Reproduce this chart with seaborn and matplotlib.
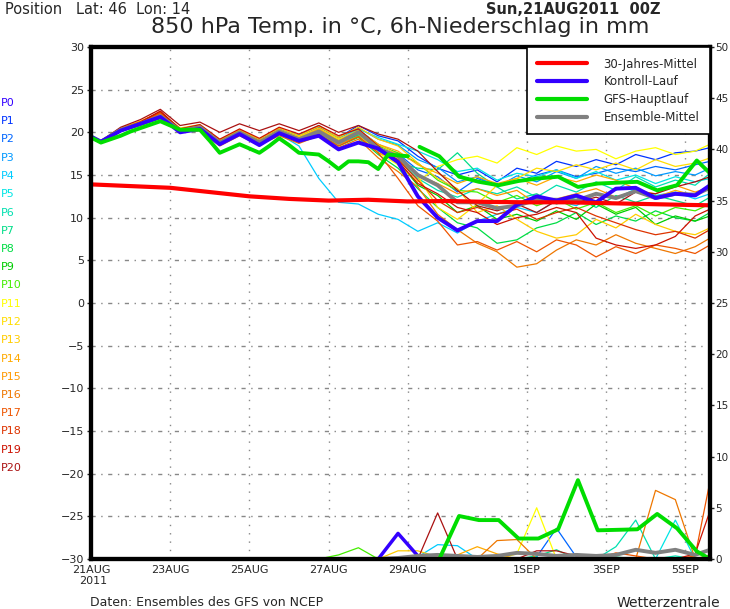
import numpy as np
import pandas as pd
import matplotlib
matplotlib.use('Agg')
import matplotlib.pyplot as plt
from matplotlib.lines import Line2D
import seaborn as sns

# forecast hours after 21AUG2011 00Z
HOURS = [0] + list(range(6, 367, 12)) + [375]          # ensemble / control / mean
MAIN1_HOURS = list(range(0, 193, 6))                   # GFS main run, high resolution part
MAIN2_HOURS = list(range(199, 368, 12)) + [375]        # GFS main run, low resolution part
CLIM_HOURS = list(range(0, 361, 24)) + [375]

TICK_DAYS = [0, 2, 4, 6, 8, 11, 13, 15]
TICK_LABELS = ['21AUG', '23AUG', '25AUG', '27AUG', '29AUG', '1SEP', '3SEP', '5SEP']

MEMBER_NAMES = ['P%d' % i for i in range(21)]
MEMBER_COLORS = ['#3300ff', '#0033ff', '#0066ff', '#0099ff', '#00ccff', '#00e5e5',
                 '#00e0b0', '#00dd88', '#00dd44', '#00cc00', '#44ee00', '#ffff00',
                 '#ffdd00', '#ffcc00', '#ffaa00', '#ff9900', '#ee7700', '#ee5500',
                 '#dd3300', '#cc1100', '#aa1111']

# 850 hPa temperature (degC)
CLIM_T850 = [13.9, 13.7, 13.5, 13.0, 12.5, 12.2, 12.0, 12.1, 11.9, 11.95, 11.85,
             11.8, 11.8, 11.7, 11.6, 11.5, 11.45]
MAIN1_T850 = [19.4, 18.8, 19.2, 19.6, 20.1, 20.5, 20.9, 21.3, 20.8, 20.3, 20.3,
              20.3, 19.0, 17.6, 18.1, 18.6, 18.1, 17.6, 18.4, 19.3, 18.5, 17.6,
              17.5, 17.4, 16.6, 15.7, 16.6, 16.6, 16.5, 15.7, 17.4, 17.3, 17.2]
MAIN2_T850 = [18.3, 17.2, 14.8, 14.2, 13.8, 14.3, 14.6, 14.8, 13.6, 14.0, 14.1,
              14.2, 13.2, 13.8, 16.7, 15.2]
CTRL_T850 = [19.5, 18.9, 20.2, 21.0, 21.8, 20.0, 20.4, 18.6, 19.8, 18.5, 19.9,
             19.0, 19.6, 18.0, 18.8, 18.1, 16.5, 12.5, 10.0, 8.5, 9.6, 9.6, 11.5,
             12.5, 12.0, 12.6, 11.8, 13.4, 13.5, 12.3, 12.8, 12.6, 13.8]
MEAN_T850 = [19.5, 18.9, 20.3, 21.0, 21.9, 20.2, 20.6, 18.8, 20.0, 18.8, 20.1,
             19.2, 20.1, 18.8, 20.0, 18.1, 17.2, 15.0, 13.8, 11.8, 11.8, 11.1,
             11.4, 12.1, 12.1, 12.0, 12.8, 12.3, 13.1, 12.3, 12.8, 12.7, 13.5]

P1_T850 = [19.5, 19.0, 20.5, 21.2, 22.0, 20.4, 20.8, 19.0, 20.2, 19.1, 20.4, 19.5, 20.6, 19.4, 20.8, 19.6, 19.0,
           17.2, 15.8, 15.0, 15.6, 14.2, 15.8, 15.2, 16.6, 16.0, 16.8, 16.2, 17.4, 16.8, 17.6, 17.8, 18.2]
P2_T850 = [19.5, 18.8, 20.2, 21.1, 22.1, 20.3, 20.7, 18.9, 19.9, 18.7, 20.0, 19.4, 20.3, 19.1, 20.3, 18.6, 17.5,
           15.6, 14.8, 13.0, 14.6, 13.8, 14.2, 15.0, 15.6, 14.8, 15.2, 15.8, 15.4, 16.0, 15.6, 16.2, 16.6]
P3_T850 = [19.5, 18.9, 20.4, 21.1, 22.2, 20.1, 20.5, 18.9, 20.1, 18.9, 20.3, 19.7, 20.8, 19.3, 20.5, 19.2, 18.5,
           16.8, 15.9, 14.2, 14.8, 13.6, 14.9, 14.2, 15.4, 14.6, 16.0, 15.2, 15.8, 14.9, 15.4, 15.0, 15.8]
P4_T850 = [19.5, 18.9, 20.3, 21.0, 21.8, 20.2, 20.4, 18.8, 19.8, 18.6, 19.8, 18.4, 14.6, 11.8, 11.6, 10.4, 9.8,
           8.4, 9.4, 8.2, 9.6, 10.4, 11.2, 10.6, 12.0, 11.4, 12.8, 12.2, 13.4, 12.6, 13.0, 12.2, 12.8]
P5_T850 = [19.5, 18.9, 20.2, 21.0, 21.9, 20.3, 20.6, 18.7, 20.0, 18.9, 20.2, 19.3, 20.4, 19.0, 20.4, 19.4, 18.6,
           17.8, 16.8, 15.4, 15.8, 14.4, 15.2, 14.8, 15.6, 14.6, 15.4, 14.4, 15.0, 14.0, 14.8, 14.2, 14.6]
P6_T850 = [19.5, 18.8, 20.1, 20.9, 21.7, 20.1, 20.5, 18.7, 19.9, 18.7, 19.9, 19.0, 19.8, 18.6, 19.6, 17.8, 16.8,
           14.6, 13.2, 12.4, 13.4, 12.8, 13.6, 12.4, 13.8, 13.0, 14.2, 13.2, 14.8, 13.6, 14.4, 13.8, 15.2]
P7_T850 = [19.5, 18.9, 20.2, 20.9, 21.8, 20.2, 20.5, 18.8, 20.0, 18.7, 20.0, 19.1, 20.0, 18.7, 19.7, 18.0, 16.4,
           15.8, 15.6, 17.6, 15.2, 13.6, 12.2, 12.8, 11.6, 12.4, 11.2, 12.6, 11.8, 12.6, 12.0, 11.4, 12.4]
P8_T850 = [19.5, 18.8, 20.3, 21.0, 21.9, 20.0, 20.4, 18.6, 19.8, 18.6, 19.8, 19.0, 19.8, 18.4, 19.4, 17.4, 15.8,
           13.4, 11.2, 9.4, 8.8, 7.0, 7.4, 8.8, 9.4, 10.6, 9.2, 10.2, 9.6, 10.8, 10.0, 9.6, 10.6]
P9_T850 = [19.5, 18.9, 20.1, 20.8, 21.6, 20.1, 20.4, 18.7, 19.9, 18.8, 19.9, 19.2, 20.0, 18.8, 19.8, 18.2, 16.6,
           13.8, 12.6, 10.6, 11.4, 9.8, 10.4, 9.6, 10.8, 9.8, 11.6, 10.4, 11.2, 9.2, 10.2, 9.6, 10.2]
P10_T850 = [19.5, 18.9, 20.3, 21.0, 21.9, 20.3, 20.7, 18.9, 20.1, 18.9, 20.2, 19.3, 20.2, 18.9, 20.1, 18.4, 17.6,
            16.4, 14.4, 13.2, 13.0, 11.8, 12.6, 11.4, 12.2, 11.0, 11.8, 10.6, 11.4, 10.2, 11.2, 10.8, 11.6]
P11_T850 = [19.5, 18.9, 20.3, 21.1, 22.0, 20.3, 20.8, 19.0, 20.2, 19.0, 20.3, 19.4, 20.3, 19.2, 19.8, 17.6, 16.2,
            14.2, 16.0, 16.8, 17.2, 16.4, 18.2, 17.4, 18.4, 17.8, 18.0, 16.9, 17.8, 18.2, 17.4, 17.8, 18.6]
P12_T850 = [19.5, 18.9, 20.4, 21.2, 22.1, 20.4, 20.7, 18.9, 20.1, 18.9, 20.2, 19.5, 20.5, 19.2, 20.2, 18.6, 17.4,
            14.8, 11.2, 9.8, 11.6, 13.8, 14.6, 15.8, 15.4, 16.2, 15.6, 16.4, 15.6, 16.8, 16.0, 16.4, 17.0]
P13_T850 = [19.5, 18.9, 20.5, 21.3, 22.3, 20.5, 20.9, 19.1, 20.3, 19.2, 20.5, 19.6, 20.7, 19.4, 20.6, 19.2, 18.4,
            16.4, 14.6, 13.4, 10.6, 11.4, 9.8, 8.4, 7.6, 8.0, 9.8, 8.8, 10.4, 9.2, 8.4, 8.0, 8.8]
P14_T850 = [19.5, 18.9, 20.4, 21.2, 22.2, 20.4, 20.8, 19.0, 20.2, 19.0, 20.3, 19.3, 20.4, 19.0, 20.2, 18.6, 17.8,
            16.2, 15.2, 14.0, 14.8, 14.0, 14.6, 13.8, 14.8, 14.2, 15.0, 14.4, 13.4, 12.4, 13.2, 12.6, 13.6]
P15_T850 = [19.5, 18.9, 20.4, 21.3, 22.4, 20.2, 20.6, 18.8, 20.0, 18.7, 19.9, 19.0, 19.9, 18.6, 19.5, 17.6, 16.8,
            15.0, 14.0, 12.8, 13.4, 12.6, 13.2, 11.6, 12.2, 12.8, 13.4, 12.4, 13.2, 12.8, 13.8, 13.0, 13.6]
P16_T850 = [19.5, 18.8, 20.3, 21.2, 22.3, 20.0, 20.2, 18.4, 19.6, 18.5, 19.6, 18.7, 19.6, 18.2, 19.2, 17.0, 15.4,
            13.6, 10.4, 8.6, 7.0, 6.0, 4.2, 4.6, 6.2, 7.4, 6.8, 8.0, 7.0, 6.4, 5.8, 6.6, 7.6]
P17_T850 = [19.5, 18.8, 20.2, 21.1, 22.2, 20.1, 20.3, 18.5, 19.7, 18.6, 19.8, 18.8, 19.7, 18.4, 19.5, 17.6, 14.6,
            11.4, 9.6, 6.8, 7.2, 6.2, 7.2, 6.0, 7.4, 6.8, 5.4, 6.6, 5.8, 6.8, 6.4, 5.8, 6.8]
P18_T850 = [19.5, 18.9, 20.4, 21.2, 22.4, 20.3, 20.6, 18.8, 20.0, 18.9, 20.1, 19.1, 20.2, 18.8, 19.9, 18.2, 16.8,
            14.4, 12.0, 10.6, 11.2, 10.4, 11.0, 9.8, 10.6, 11.2, 10.2, 9.4, 8.6, 8.0, 8.4, 7.6, 8.6]
P19_T850 = [19.5, 18.9, 20.3, 21.2, 22.5, 20.4, 20.9, 19.2, 20.4, 19.3, 20.6, 19.8, 20.8, 19.6, 20.4, 18.4, 16.6,
            14.0, 12.8, 11.2, 10.6, 9.2, 10.0, 10.4, 11.2, 10.6, 7.6, 6.8, 6.4, 6.8, 7.8, 10.2, 11.0]
P20_T850 = [19.5, 19.0, 20.6, 21.5, 22.7, 20.8, 21.2, 20.0, 21.0, 20.2, 21.0, 20.2, 21.1, 20.0, 20.8, 19.8, 19.2,
            17.8, 15.4, 13.2, 11.4, 10.8, 11.6, 10.6, 12.0, 11.8, 12.4, 11.6, 13.0, 12.8, 13.6, 14.2, 14.8]

# 6h precipitation (mm)
MAIN2_PRECIP = [0, 0, 4.2, 3.8, 3.8, 2.0, 2.0, 2.9, 7.7, 2.8, 2.85, 2.9, 4.4, 3.0, 0.75, 0]
CTRL_PRECIP = [0] * 15 + [0, 2.5, 0.3, 0] + [0] * 14
MEAN_PRECIP = [0] * 16 + [0.1, 0.3, 0.4, 0.3, 0.2, 0.3, 0.6, 0.5, 0.3, 0.4, 0.3, 0.4, 0.9, 0.6, 0.9, 0.4, 0.9]

Z = [0] * 33
P4_PRECIP = [0] * 17 + [0.2, 1.4, 1.3, 0] + [0] * 12
P5_PRECIP = [0] * 29 + [0, 3.8, 0, 0.2]
P6_PRECIP = [0] * 26 + [0, 1.2, 3.8, 0, 0.3, 0, 0]
P2_PRECIP = [0] * 22 + [0, 0.2, 3.0, 0.2, 0] + [0] * 6
P7_PRECIP = [0] * 22 + [0, 0.3, 0.9, 0, 0, 0.2, 0, 0, 0, 0, 0]
P10_PRECIP = [0] * 12 + [0, 0.4, 1.1, 0] + [0] * 17
P11_PRECIP = [0] * 21 + [0, 0.5, 5.0, 0] + [0] * 8
P13_PRECIP = [0] * 15 + [0, 0.8, 0.8, 0.2, 0] + [0] * 13
P14_PRECIP = [0] * 18 + [0.3, 0.4, 1.2, 0.5, 0] + [0] * 10
P16_PRECIP = [0] * 20 + [0, 1.8, 1.9, 0, 0.2, 0, 0, 0, 0, 6.7, 5.8, 0, 0.4]
P17_PRECIP = [0] * 27 + [0.6, 0.3, 0, 0, 0.3, 7.6]
P19_PRECIP = [0] * 29 + [0, 0, 0.5, 4.7]
P20_PRECIP = [0] * 17 + [0, 4.5, 0, 0, 0, 0, 0.8, 0.8, 0.3, 0, 0, 0, 0, 0, 0, 0]

member_t850 = [P1_T850, P2_T850, P3_T850, P4_T850, P5_T850, P6_T850, P7_T850,
               P8_T850, P9_T850, P10_T850, P11_T850, P12_T850, P13_T850, P14_T850,
               P15_T850, P16_T850, P17_T850, P18_T850, P19_T850, P20_T850]
member_precip = [Z, P2_PRECIP, Z, P4_PRECIP, P5_PRECIP, P6_PRECIP, P7_PRECIP,
                 Z, Z, P10_PRECIP, P11_PRECIP, Z, P13_PRECIP, P14_PRECIP,
                 Z, P16_PRECIP, P17_PRECIP, Z, P19_PRECIP, P20_PRECIP]

days = np.array(HOURS) / 24.0
rows = []
for i in range(20):
    for d, t, p in zip(days, member_t850[i], member_precip[i]):
        rows.append((MEMBER_NAMES[i + 1], d, t, p))
df = pd.DataFrame(rows, columns=['member', 'day', 't850', 'precip'])

sns.set_style('white')
plt.rcParams['font.family'] = ['DejaVu Sans']

W, H = 730, 609
fig = plt.figure(figsize=(W / 100, H / 100), dpi=100)
ax = fig.add_axes([91 / W, 1 - 559 / H, (710 - 91) / W, (559 - 47) / H])
ax2 = ax.twinx()

# temperature
sns.lineplot(data=df, x='day', y='t850', hue='member', palette=MEMBER_COLORS[1:],
             linewidth=0.9, legend=False, ax=ax, estimator=None, sort=False)
sns.lineplot(x=days, y=MEAN_T850, color='#808080', linewidth=2.8, ax=ax)
sns.lineplot(x=days, y=CTRL_T850, color=MEMBER_COLORS[0], linewidth=2.8, ax=ax)
sns.lineplot(x=np.array(MAIN1_HOURS) / 24, y=MAIN1_T850, color='#00dd00', linewidth=2.8, ax=ax)
sns.lineplot(x=np.array(MAIN2_HOURS) / 24, y=MAIN2_T850, color='#00dd00', linewidth=2.8, ax=ax)
sns.lineplot(x=np.array(CLIM_HOURS) / 24, y=CLIM_T850, color='#ff0000', linewidth=3, ax=ax)

# precipitation on the right axis
sns.lineplot(data=df, x='day', y='precip', hue='member', palette=MEMBER_COLORS[1:],
             linewidth=0.9, legend=False, ax=ax2, estimator=None, sort=False)
sns.lineplot(x=days, y=CTRL_PRECIP, color=MEMBER_COLORS[0], linewidth=2.5, ax=ax2)
sns.lineplot(x=days, y=MEAN_PRECIP, color='#808080', linewidth=2.8, ax=ax2)
sns.lineplot(x=np.array(MAIN2_HOURS) / 24, y=MAIN2_PRECIP, color='#00dd00', linewidth=2.8, ax=ax2)

ax.set_xlim(0, 375 / 24)
ax.set_ylim(-30, 30)
ax2.set_ylim(0, 50)
ax.set_yticks(range(-30, 31, 5))
ax2.set_yticks(range(0, 51, 5))
ax.set_xticks(TICK_DAYS)
ax.set_xticklabels(TICK_LABELS, fontsize=8)
ax.tick_params(axis='y', labelsize=8, direction='out', length=3, width=1, pad=2)
ax.tick_params(axis='x', direction='out', length=3, width=1, pad=1)
ax2.tick_params(axis='y', labelsize=7.5, direction='out', length=3, width=1, pad=1)
ax.set_xlabel('')
ax.set_ylabel('')
ax2.set_ylabel('')

ax.xaxis.grid(True, color='#888888', linestyle=(0, (1, 5)), linewidth=1)
ax.yaxis.grid(True, color='#888888', linestyle=(0, (3, 4, 1, 4)), linewidth=1)
ax2.grid(False)
for a in (ax, ax2):
    for s in a.spines.values():
        s.set_linewidth(3)
        s.set_color('black')

handles = [Line2D([], [], color='#ff0000', lw=3),
           Line2D([], [], color=MEMBER_COLORS[0], lw=3),
           Line2D([], [], color='#00dd00', lw=3),
           Line2D([], [], color='#808080', lw=3)]
leg = ax2.legend(handles, ['30-Jahres-Mittel', 'Kontroll-Lauf', 'GFS-Hauptlauf', 'Ensemble-Mittel'],
                 loc='upper right', bbox_to_anchor=(1, 1), borderaxespad=0, fontsize=8.5,
                 handlelength=4.2, handletextpad=1.4, borderpad=0.9, labelspacing=0.4,
                 fancybox=False, framealpha=1, edgecolor='black')
leg.get_frame().set_linewidth(1.2)

# year under the first date label, left aligned like the original
fig.text(79 / W, 1 - 581 / H, '2011', fontsize=8, va='center', ha='left')

# member labels on the left edge
for i, (name, col) in enumerate(zip(MEMBER_NAMES, MEMBER_COLORS)):
    fig.text(1 / W, 1 - (103 + i * 18.25) / H, name, color=col, fontsize=8, va='center', ha='left')

fig.text(5 / W, 1 - 10 / H, 'Position   Lat: 46  Lon: 14', fontsize=10.5, va='center', ha='left')
fig.text(660 / W, 1 - 10 / H, 'Sun,21AUG2011  00Z', fontsize=10.5, fontweight='bold', va='center', ha='right')
fig.text(400 / W, 1 - 27 / H, '850 hPa Temp. in °C, 6h-Niederschlag in mm', fontsize=16, va='center', ha='center')
fig.text(90 / W, 1 - 603 / H, 'Daten: Ensembles des GFS von NCEP', fontsize=9, va='center', ha='left')
fig.text(720 / W, 1 - 603 / H, 'Wetterzentrale', fontsize=10, va='center', ha='right')

fig.savefig('out.png', dpi=100)
